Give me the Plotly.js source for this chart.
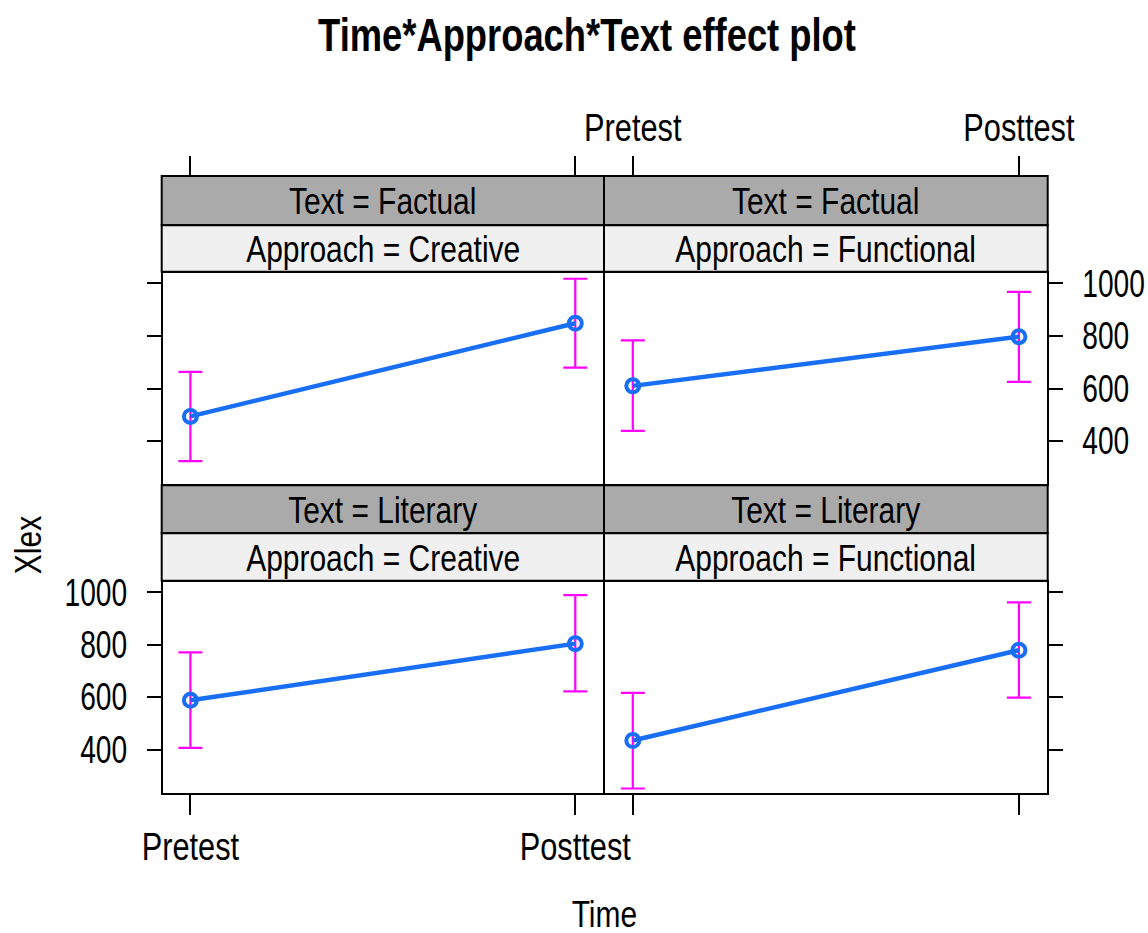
<!DOCTYPE html>
<html>
<head>
<meta charset="utf-8">
<script src="https://cdn.plot.ly/plotly-3.0.1.min.js"></script>
<style>html,body{margin:0;padding:0;background:#fff}#chart{width:1148px;height:933px}</style>
</head>
<body>
<div id="chart"></div>
<script>
const times = ['Pretest', 'Posttest'];
const textLevels = ['Factual', 'Factual', 'Literary', 'Literary'];
const approachLevels = ['Creative', 'Functional', 'Creative', 'Functional'];

const fitFactualCreative = [494, 848];
const lowerFactualCreative = [324, 679];
const upperFactualCreative = [663, 1017];

const fitFactualFunctional = [610, 797];
const lowerFactualFunctional = [439, 625];
const upperFactualFunctional = [783, 967];

const fitLiteraryCreative = [588, 804];
const lowerLiteraryCreative = [407, 622];
const upperLiteraryCreative = [771, 989];

const fitLiteraryFunctional = [435, 779];
const lowerLiteraryFunctional = [252, 598];
const upperLiteraryFunctional = [616, 961];

const yTicks = [400, 600, 800, 1000];

const W = 1148, H = 933;
const px = v => v / W;
const py = v => 1 - v / H;
const FONT = 'Liberation Sans, Arial, Helvetica, sans-serif';
const LINE_BLUE = 'rgb(24,110,245)';
const ERR = 'rgb(255,0,255)';

// plot-area domains in pixels (axis lines drawn just outside)
const colDom = [[162.7, 603], [605, 1046.7]];
const colStrip = [[161.7, 604], [604, 1047.7]];
const rowPlot = { top: [272.7, 484.3], bottom: [581.7, 792.7] };
const rowStrip = { top: [176, 225.3, 271.7], bottom: [485.3, 533.3, 580.7] };

const panels = [
  { fit: fitFactualCreative, lo: lowerFactualCreative, hi: upperFactualCreative, xa: 'x3', ya: 'y3', col: 0, row: 'top', t: textLevels[0], a: approachLevels[0] },
  { fit: fitFactualFunctional, lo: lowerFactualFunctional, hi: upperFactualFunctional, xa: 'x4', ya: 'y4', col: 1, row: 'top', t: textLevels[1], a: approachLevels[1] },
  { fit: fitLiteraryCreative, lo: lowerLiteraryCreative, hi: upperLiteraryCreative, xa: 'x', ya: 'y', col: 0, row: 'bottom', t: textLevels[2], a: approachLevels[2] },
  { fit: fitLiteraryFunctional, lo: lowerLiteraryFunctional, hi: upperLiteraryFunctional, xa: 'x2', ya: 'y2', col: 1, row: 'bottom', t: textLevels[3], a: approachLevels[3] }
];

const traces = [];
const shapes = [];
const annotations = [];
const stripFont = { family: FONT, size: 37, color: 'black' };

panels.forEach(p => {
  traces.push({
    type: 'scatter', mode: 'lines', x: times, y: p.fit, xaxis: p.xa, yaxis: p.ya,
    line: { color: LINE_BLUE, width: 4.5 }, hoverinfo: 'skip', showlegend: false,
    error_y: { type: 'data', symmetric: false,
      array: p.hi.map((v, i) => v - p.fit[i]),
      arrayminus: p.fit.map((v, i) => v - p.lo[i]),
      color: ERR, thickness: 2.2, width: 12 }
  });
  traces.push({
    type: 'scatter', mode: 'markers', x: times, y: p.fit, xaxis: p.xa, yaxis: p.ya,
    marker: { symbol: 'circle-open', size: 13, color: LINE_BLUE, line: { width: 4, color: LINE_BLUE } },
    hoverinfo: 'skip', showlegend: false
  });
  const [x0, x1] = colStrip[p.col];
  const s = rowStrip[p.row];
  shapes.push({ type: 'rect', xref: 'paper', yref: 'paper', x0: px(x0), x1: px(x1), y0: py(s[1]), y1: py(s[0]),
    fillcolor: 'rgb(170,170,170)', line: { color: 'black', width: 2 } });
  shapes.push({ type: 'rect', xref: 'paper', yref: 'paper', x0: px(x0), x1: px(x1), y0: py(s[2]), y1: py(s[1]),
    fillcolor: 'rgb(240,240,240)', line: { color: 'black', width: 2 } });
  annotations.push({ xref: 'paper', yref: 'paper', x: px((x0 + x1) / 2), y: py((s[0] + s[1]) / 2 + 1),
    text: 'Text = ' + p.t, showarrow: false, xanchor: 'center', yanchor: 'middle', font: stripFont });
  annotations.push({ xref: 'paper', yref: 'paper', x: px((x0 + x1) / 2), y: py((s[1] + s[2]) / 2 + 1),
    text: 'Approach = ' + p.a, showarrow: false, xanchor: 'center', yanchor: 'middle', font: stripFont });
});

// invisible traces so the top tick axes have a subplot
traces.push({ type: 'scatter', mode: 'markers', x: times, y: fitFactualCreative, xaxis: 'x5', yaxis: 'y3', marker: { opacity: 0 }, hoverinfo: 'skip', showlegend: false });
traces.push({ type: 'scatter', mode: 'markers', x: times, y: fitFactualFunctional, xaxis: 'x6', yaxis: 'y4', marker: { opacity: 0 }, hoverinfo: 'skip', showlegend: false });

annotations.push({ xref: 'paper', yref: 'paper', x: px(604), y: py(914), text: 'Time', showarrow: false,
  xanchor: 'center', yanchor: 'middle', font: { family: FONT, size: 37, color: 'black' } });
annotations.push({ xref: 'paper', yref: 'paper', x: px(28), y: py(545), text: 'Xlex', showarrow: false, textangle: -90,
  xanchor: 'center', yanchor: 'middle', font: { family: FONT, size: 37, color: 'black' } });

const tickFont = { family: FONT, size: 38, color: 'black' };
const xRange = [-0.072, 1.072];
const yRange = [236, 1040];
const dTop = [py(rowPlot.top[1]), py(rowPlot.top[0])];
const dBot = [py(rowPlot.bottom[1]), py(rowPlot.bottom[0])];
const dL = [px(colDom[0][0]), px(colDom[0][1])];
const dR = [px(colDom[1][0]), px(colDom[1][1])];

function xa(domain, anchor, labels, ticks) {
  return { domain, anchor, type: 'category', categoryorder: 'array', categoryarray: times, range: xRange,
    showgrid: false, zeroline: false, showline: true, mirror: true, linecolor: 'black', linewidth: 2,
    ticks: ticks ? 'outside' : '', ticklen: 20, tickwidth: 2, tickcolor: 'black',
    showticklabels: labels, tickfont: tickFont, fixedrange: true };
}
function ya(domain, anchor, side, labels) {
  return { domain, anchor, side, range: yRange, tickvals: yTicks, ticktext: yTicks.map(String),
    showgrid: false, zeroline: false, showline: true, mirror: true, linecolor: 'black', linewidth: 2,
    ticks: 'outside', ticklen: 14, tickwidth: 2, tickcolor: 'black', ticklabelstandoff: 12,
    showticklabels: labels, tickfont: tickFont, fixedrange: true };
}
function xTop(over, labels) {
  return { overlaying: over, side: 'top', anchor: 'free', position: py(176), type: 'category',
    categoryorder: 'array', categoryarray: times, range: xRange, showgrid: false, zeroline: false, showline: false,
    ticks: 'outside', ticklen: 20, tickwidth: 2, tickcolor: 'black', showticklabels: labels, tickfont: tickFont, fixedrange: true };
}

const layout = {
  width: W, height: H,
  margin: { l: 0, r: 0, t: 0, b: 0 },
  paper_bgcolor: 'white', plot_bgcolor: 'white',
  showlegend: false,
  title: { text: 'Time*Approach*Text effect plot', x: px(587), xanchor: 'center', y: py(35), yanchor: 'middle',
    font: { family: FONT, size: 46, color: 'black', weight: 'bold' } },
  xaxis: xa(dL, 'y', true, true),
  xaxis2: xa(dR, 'y2', false, true),
  xaxis3: xa(dL, 'y3', false, false),
  xaxis4: xa(dR, 'y4', false, false),
  xaxis5: xTop('x3', false),
  xaxis6: xTop('x4', true),
  yaxis: ya(dBot, 'x', 'left', true),
  yaxis2: ya(dBot, 'x2', 'right', false),
  yaxis3: ya(dTop, 'x3', 'left', false),
  yaxis4: ya(dTop, 'x4', 'right', true),
  shapes, annotations
};

// The reference uses a condensed sans face; compress the real text horizontally to match.
function condense(gd) {
  gd.querySelectorAll('svg text').forEach(t => {
    const s = t.textContent.trim();
    if (!s) return;
    const len = t.getComputedTextLength();
    if (!len) return;
    const f = /^\d+$/.test(s) ? 0.74 : (t.closest('.gtitle') || t.classList.contains('gtitle') ? 0.79 : 0.81);
    t.setAttribute('textLength', (len * f).toFixed(2));
    t.setAttribute('lengthAdjust', 'spacingAndGlyphs');
  });
}

Plotly.newPlot('chart', traces, layout, { displayModeBar: false, staticPlot: true }).then(condense);
</script>
</body>
</html>
